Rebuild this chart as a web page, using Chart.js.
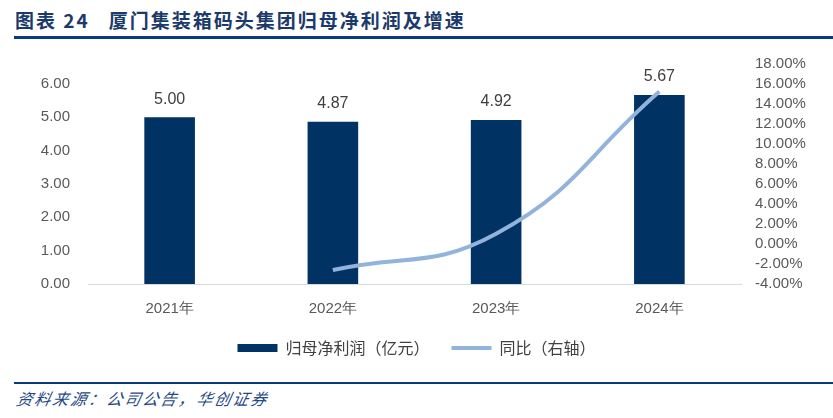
<!DOCTYPE html>
<html>
<head>
<meta charset="utf-8">
<script src="https://cdn.jsdelivr.net/npm/chart.js@4"></script>
<style>
  html, body { margin: 0; padding: 0; background: #fff; }
  #wrap { position: relative; width: 833px; height: 418px; overflow: hidden; }
  #title {
    position: absolute; left: 15px; top: 6px;
    font-family: "Noto Sans CJK SC", sans-serif; font-weight: bold;
    font-size: 19px; letter-spacing: 2px; color: #1b3a6b; white-space: nowrap;
  }
  #titleLine { position: absolute; left: 14px; right: 0; top: 36px; height: 3px; background: #0a3a7e; }
  #srcLine { position: absolute; left: 14px; right: 0; top: 382px; height: 2px; background: #0a3a7e; }
  #source {
    position: absolute; left: 17px; top: 386px;
    font-family: "Noto Sans CJK SC", sans-serif; font-style: italic;
    font-size: 16px; letter-spacing: 2px; color: #1f4a86; white-space: nowrap;
    transform: skewX(-12deg);
  }
  #box { position: absolute; left: 0; top: 0; width: 833px; height: 366px; }
</style>
</head>
<body>
<div id="wrap">
  <div id="title">图表 24&nbsp;&nbsp;&nbsp;厦门集装箱码头集团归母净利润及增速</div>
  <div id="titleLine"></div>
  <div id="box"><canvas id="chart"></canvas></div>
  <div id="srcLine"></div>
  <div id="source">资料来源：公司公告，华创证券</div>
</div>
<script>
// data
const years = ["2021年", "2022年", "2023年", "2024年"];
const profit = [5.00, 4.87, 4.92, 5.67];           // 归母净利润（亿元）
const growth = [null, -2.60, 1.03, 15.24];          // 同比（%）
const leftTicks = [0, 1, 2, 3, 4, 5, 6];
const rightTicks = [-4, -2, 0, 2, 4, 6, 8, 10, 12, 14, 16, 18];

const tickFont = { family: "Liberation Sans, Arial, sans-serif", size: 15 };

// labels above the bars
const barLabels = {
    id: "barLabels",
    afterDatasetsDraw(chart) {
        const ctx = chart.ctx;
        const meta = chart.getDatasetMeta(0);
        ctx.save();
        ctx.font = "16px Liberation Sans, Arial, sans-serif";
        ctx.fillStyle = "#404040";
        ctx.textAlign = "center";
        ctx.textBaseline = "middle";
        meta.data.forEach((bar, i) => {
            ctx.fillText(profit[i].toFixed(2), bar.x, bar.y - 18);
        });
        ctx.restore();
    }
};

new Chart(document.getElementById("chart"), {
    type: "bar",
    data: {
        labels: years,
        datasets: [{
            label: "归母净利润（亿元）",
            data: profit,
            yAxisID: "y",
            backgroundColor: "#003264",
            pointStyle: "rect",
            barPercentage: 0.31,
            categoryPercentage: 1,
            order: 1
        }, {
            type: "line",
            label: "同比（右轴）",
            data: growth,
            yAxisID: "y1",
            borderColor: "#92b4dc",
            backgroundColor: "#92b4dc",
            borderWidth: 4,
            pointRadius: 0,
            pointStyle: "line",
            tension: 0.45,
            order: 0
        }]
    },
    options: {
        responsive: true,
        maintainAspectRatio: false,
        animation: false,
        layout: { padding: { top: 64, left: 0, right: 0, bottom: 0 } },
        plugins: {
            tooltip: { enabled: false },
            legend: {
                position: "bottom",
                labels: {
                    usePointStyle: true,
                    pointStyleWidth: 40,
                    boxHeight: 8,
                    padding: 22,
                    color: "#404040",
                    font: { family: "Noto Sans CJK SC, sans-serif", size: 16 },
                    sort: (a, b) => a.datasetIndex - b.datasetIndex
                }
            }
        },
        scales: {
            x: {
                grid: { display: false, drawTicks: false },
                border: { color: "#d9d9d9", width: 1 },
                ticks: { color: "#595959", font: tickFont, padding: 16 },
                afterFit(scale) { scale.height = 34; }
            },
            y: {
                position: "left",
                min: 0,
                max: 6.6,
                grid: { display: false, drawTicks: false },
                border: { display: false },
                afterBuildTicks(scale) { scale.ticks = leftTicks.map(v => ({ value: v })); },
                ticks: {
                    color: "#595959", font: tickFont, padding: 18, autoSkip: false,
                    callback: v => v.toFixed(2)
                },
                afterFit(scale) { scale.width = 88; }
            },
            y1: {
                position: "right",
                min: -4,
                max: 18,
                grid: { display: false, drawTicks: false },
                border: { display: false },
                afterBuildTicks(scale) { scale.ticks = rightTicks.map(v => ({ value: v })); },
                ticks: {
                    color: "#595959", font: tickFont, padding: 14, autoSkip: false,
                    callback: v => v.toFixed(2) + "%"
                },
                afterFit(scale) { scale.width = 92; }
            }
        }
    },
    plugins: [barLabels]
});
</script>
</body>
</html>
